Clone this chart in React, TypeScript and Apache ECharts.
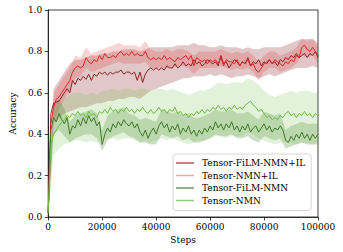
import React, { useEffect, useRef } from "react";
import * as echarts from "echarts";

const STEP_LINE = 1000;
const STEP_BAND = 2000;

const NAMES = ["Tensor-FiLM-NMN+IL", "Tensor-NMN+IL", "Tensor-FiLM-NMN", "Tensor-NMN"];
const X_TICKS = [0, 20000, 40000, 60000, 80000, 100000];
const Y_TICKS = [0, 0.2, 0.4, 0.6, 0.8, 1.0];

const R1 = [
  0.02, 0.50, 0.55, 0.555, 0.56, 0.58, 0.60, 0.62, 0.60, 0.66, 0.64,
  0.67, 0.66, 0.68, 0.665, 0.69, 0.66, 0.69, 0.68, 0.70, 0.69,
  0.70, 0.685, 0.70, 0.69, 0.70, 0.70, 0.71, 0.69, 0.70, 0.70,
  0.69, 0.70, 0.66, 0.70, 0.65, 0.69, 0.71, 0.72, 0.71, 0.72,
  0.71, 0.72, 0.71, 0.73, 0.72, 0.72, 0.74, 0.72, 0.73, 0.75,
  0.73, 0.74, 0.73, 0.76, 0.74, 0.75, 0.73, 0.74, 0.76, 0.75,
  0.74, 0.75, 0.73, 0.78, 0.74, 0.75, 0.72, 0.74, 0.76, 0.75,
  0.73, 0.75, 0.74, 0.77, 0.73, 0.75, 0.74, 0.76, 0.73, 0.75,
  0.74, 0.76, 0.74, 0.75, 0.73, 0.76, 0.75, 0.77, 0.76, 0.78,
  0.77, 0.79, 0.77, 0.78, 0.79, 0.77, 0.79, 0.78, 0.80, 0.77,
];
const R2 = [
  0.02, 0.45, 0.53, 0.57, 0.58, 0.60, 0.62, 0.64, 0.66, 0.70, 0.72,
  0.73, 0.72, 0.73, 0.77, 0.75, 0.74, 0.76, 0.75, 0.78, 0.76,
  0.79, 0.77, 0.77, 0.78, 0.77, 0.79, 0.80, 0.78, 0.79, 0.78,
  0.80, 0.78, 0.79, 0.78, 0.78, 0.80, 0.77, 0.76, 0.77, 0.76,
  0.77, 0.76, 0.78, 0.76, 0.77, 0.76, 0.75, 0.77, 0.76, 0.77,
  0.78, 0.76, 0.78, 0.73, 0.77, 0.76, 0.75, 0.76, 0.74, 0.76,
  0.75, 0.76, 0.74, 0.77, 0.73, 0.76, 0.75, 0.75, 0.74, 0.76,
  0.73, 0.75, 0.74, 0.76, 0.73, 0.74, 0.71, 0.70, 0.72, 0.74,
  0.75, 0.76, 0.74, 0.76, 0.75, 0.74, 0.73, 0.75, 0.74, 0.76,
  0.75, 0.78, 0.77, 0.82, 0.83, 0.81, 0.80, 0.82, 0.80, 0.78,
];
const G1 = [
  0.02, 0.42, 0.48, 0.46, 0.50, 0.47, 0.45, 0.48, 0.40, 0.44, 0.43,
  0.47, 0.44, 0.48, 0.45, 0.49, 0.46, 0.48, 0.44, 0.46, 0.35,
  0.40, 0.43, 0.41, 0.45, 0.43, 0.46, 0.44, 0.47, 0.45, 0.44,
  0.46, 0.43, 0.45, 0.41, 0.39, 0.42, 0.38, 0.41, 0.43, 0.40,
  0.44, 0.46, 0.43, 0.45, 0.41, 0.44, 0.42, 0.45, 0.40, 0.43,
  0.41, 0.44, 0.40, 0.42, 0.39, 0.42, 0.40, 0.43, 0.41, 0.44,
  0.42, 0.46, 0.43, 0.45, 0.42, 0.45, 0.43, 0.46, 0.42, 0.44,
  0.41, 0.44, 0.42, 0.45, 0.41, 0.43, 0.44, 0.41, 0.43, 0.45,
  0.42, 0.44, 0.41, 0.43, 0.42, 0.44, 0.42, 0.37, 0.36, 0.39,
  0.37, 0.40, 0.38, 0.41, 0.38, 0.40, 0.37, 0.40, 0.38, 0.40,
];
const G2 = [
  0.02, 0.35, 0.40, 0.42, 0.44, 0.46, 0.47, 0.49, 0.48, 0.50, 0.49,
  0.51, 0.49, 0.50, 0.48, 0.51, 0.49, 0.50, 0.48, 0.51, 0.50,
  0.52, 0.50, 0.53, 0.51, 0.52, 0.50, 0.52, 0.51, 0.53, 0.51,
  0.52, 0.50, 0.52, 0.51, 0.53, 0.51, 0.50, 0.52, 0.50, 0.51,
  0.53, 0.51, 0.52, 0.50, 0.52, 0.51, 0.53, 0.50, 0.51, 0.49,
  0.50, 0.48, 0.50, 0.49, 0.51, 0.50, 0.52, 0.50, 0.52, 0.51,
  0.53, 0.52, 0.54, 0.52, 0.53, 0.51, 0.53, 0.52, 0.54, 0.52,
  0.53, 0.52, 0.54, 0.55, 0.56, 0.54, 0.53, 0.51, 0.52, 0.50,
  0.48, 0.49, 0.47, 0.48, 0.47, 0.49, 0.48, 0.50, 0.51, 0.49,
  0.50, 0.48, 0.50, 0.49, 0.51, 0.49, 0.50, 0.48, 0.50, 0.49,
];

const R1_LO = [
  0.00, 0.45, 0.48, 0.50, 0.51, 0.52, 0.53, 0.53, 0.54, 0.55, 0.55,
  0.56, 0.56, 0.57, 0.57, 0.58, 0.58, 0.57, 0.59, 0.61, 0.62,
  0.63, 0.64, 0.65, 0.66, 0.67, 0.67, 0.68, 0.68, 0.68, 0.69,
  0.68, 0.69, 0.68, 0.67, 0.68, 0.68, 0.69, 0.68, 0.67, 0.68,
  0.69, 0.68, 0.69, 0.70, 0.71, 0.72, 0.72, 0.72, 0.73, 0.72,
];
const R1_HI = [
  0.05, 0.62, 0.66, 0.70, 0.74, 0.76, 0.76, 0.77, 0.78, 0.78, 0.79,
  0.79, 0.80, 0.80, 0.81, 0.81, 0.81, 0.80, 0.81, 0.82, 0.82,
  0.82, 0.82, 0.82, 0.83, 0.83, 0.83, 0.84, 0.83, 0.83, 0.82,
  0.82, 0.83, 0.82, 0.82, 0.82, 0.81, 0.82, 0.81, 0.81, 0.82,
  0.82, 0.82, 0.82, 0.83, 0.84, 0.85, 0.86, 0.86, 0.86, 0.84,
];
const R2_LO = [
  0.00, 0.47, 0.52, 0.57, 0.61, 0.67, 0.68, 0.72, 0.70, 0.71, 0.72,
  0.73, 0.74, 0.75, 0.74, 0.74, 0.74, 0.74, 0.75, 0.72, 0.72,
  0.72, 0.72, 0.72, 0.73, 0.73, 0.72, 0.69, 0.72, 0.72, 0.72,
  0.72, 0.73, 0.72, 0.71, 0.72, 0.71, 0.72, 0.70, 0.66, 0.70,
  0.72, 0.72, 0.70, 0.71, 0.72, 0.74, 0.78, 0.77, 0.78, 0.74,
];
const R2_HI = [
  0.05, 0.60, 0.64, 0.68, 0.72, 0.78, 0.77, 0.82, 0.79, 0.80, 0.81,
  0.82, 0.83, 0.84, 0.83, 0.83, 0.83, 0.82, 0.85, 0.81, 0.80,
  0.80, 0.81, 0.80, 0.81, 0.81, 0.80, 0.78, 0.80, 0.80, 0.80,
  0.80, 0.81, 0.80, 0.79, 0.80, 0.79, 0.80, 0.78, 0.75, 0.78,
  0.80, 0.80, 0.78, 0.79, 0.80, 0.82, 0.86, 0.85, 0.86, 0.82,
];
const G1_LO = [
  0.00, 0.40, 0.42, 0.39, 0.36, 0.38, 0.39, 0.40, 0.40, 0.38, 0.32,
  0.37, 0.39, 0.40, 0.41, 0.39, 0.38, 0.36, 0.36, 0.35, 0.35,
  0.40, 0.39, 0.38, 0.39, 0.37, 0.38, 0.36, 0.36, 0.37, 0.38,
  0.40, 0.39, 0.39, 0.40, 0.38, 0.38, 0.39, 0.37, 0.36, 0.39,
  0.38, 0.37, 0.38, 0.33, 0.34, 0.35, 0.36, 0.35, 0.35, 0.35,
];
const G1_HI = [
  0.05, 0.55, 0.57, 0.52, 0.46, 0.49, 0.50, 0.51, 0.52, 0.50, 0.42,
  0.49, 0.51, 0.52, 0.53, 0.50, 0.49, 0.47, 0.48, 0.47, 0.46,
  0.52, 0.51, 0.50, 0.51, 0.49, 0.50, 0.48, 0.48, 0.49, 0.50,
  0.52, 0.51, 0.51, 0.52, 0.50, 0.50, 0.51, 0.49, 0.47, 0.51,
  0.50, 0.49, 0.50, 0.42, 0.44, 0.45, 0.46, 0.45, 0.45, 0.45,
];
const G2_LO = [
  0.00, 0.30, 0.33, 0.35, 0.36, 0.37, 0.37, 0.36, 0.37, 0.36, 0.37,
  0.38, 0.38, 0.37, 0.38, 0.38, 0.37, 0.36, 0.37, 0.36, 0.37,
  0.38, 0.37, 0.38, 0.37, 0.36, 0.35, 0.36, 0.37, 0.37, 0.38,
  0.39, 0.39, 0.38, 0.39, 0.39, 0.39, 0.41, 0.40, 0.38, 0.37,
  0.36, 0.35, 0.36, 0.36, 0.36, 0.35, 0.36, 0.36, 0.35, 0.36,
];
const G2_HI = [
  0.05, 0.50, 0.54, 0.57, 0.59, 0.60, 0.60, 0.59, 0.60, 0.59, 0.61,
  0.61, 0.62, 0.61, 0.62, 0.62, 0.61, 0.62, 0.62, 0.61, 0.62,
  0.62, 0.61, 0.62, 0.61, 0.60, 0.59, 0.60, 0.61, 0.61, 0.62,
  0.64, 0.65, 0.64, 0.65, 0.65, 0.65, 0.67, 0.66, 0.64, 0.61,
  0.59, 0.58, 0.59, 0.60, 0.61, 0.60, 0.61, 0.61, 0.60, 0.60,
];

const LINES = [R1, R2, G1, G2];
const BANDS_LO = [R1_LO, R2_LO, G1_LO, G2_LO];
const BANDS_HI = [R1_HI, R2_HI, G1_HI, G2_HI];

const LINE_COLORS = ["#8b2525", "#e0262a", "#3f7a25", "#6dbd45"];
const LEGEND_COLORS = ["#b05a5a", "#f2a3a3", "#6f9a5f", "#8fcc72"];
const BAND_COLORS = [
  "rgba(139,37,37,0.26)",
  "rgba(224,38,42,0.2)",
  "rgba(63,122,37,0.25)",
  "rgba(109,189,69,0.2)",
];

const FONT = "DejaVu Serif";

export default function App() {
  const ref = useRef<HTMLDivElement>(null);
  useEffect(() => {
    if (!ref.current) return;
    const chart = echarts.init(ref.current, undefined, { renderer: "svg" });
    const series: any[] = [];
    BANDS_LO.forEach((lo, k) => {
      const hi = BANDS_HI[k];
      const data = lo.map((v, i) => [i * STEP_BAND, v, hi[i]]);
      series.push({
        type: "custom",
        name: "band" + k,
        data,
        encode: { x: 0, y: [1, 2] },
        silent: true,
        z: 1,
        renderItem: (params: any, api: any) => {
          if (params.dataIndex !== 0) return null;
          const top = data.map((d) => api.coord([d[0], d[2]]));
          const bot = data.map((d) => api.coord([d[0], d[1]])).reverse();
          return {
            type: "polygon",
            shape: { points: top.concat(bot) },
            style: { fill: BAND_COLORS[k], stroke: "none" },
          };
        },
      });
    });
    LINES.forEach((arr, k) => {
      series.push({
        type: "line",
        name: NAMES[k],
        data: arr.map((v, i) => [i * STEP_LINE, v]),
        symbol: "none",
        showSymbol: false,
        color: LINE_COLORS[k],
        lineStyle: { color: LINE_COLORS[k], width: 1 },
        z: 3,
      });
    });
    chart.setOption({
      animation: false,
      grid: {
        left: 41,
        right: 25,
        top: 10,
        bottom: 35,
        show: true,
        borderColor: "#111",
        borderWidth: 0.8,
        backgroundColor: "transparent",
      },
      legend: {
        orient: "vertical",
        left: 173,
        top: 154,
        data: NAMES.map((n, k) => ({ name: n, itemStyle: { color: LEGEND_COLORS[k] } })),
        icon: "rect",
        itemWidth: 18,
        itemHeight: 1.5,
        itemGap: 2.5,
        padding: [4, 6, 5, 3],
        borderColor: "#cccccc",
        borderWidth: 0.8,
        borderRadius: 3,
        backgroundColor: "rgba(255,255,255,0.8)",
        textStyle: { fontFamily: FONT, fontSize: 9, color: "#000", lineHeight: 10, padding: [0, 0, 0, 3] },
      },
      xAxis: {
        type: "value",
        min: X_TICKS[0],
        max: X_TICKS[X_TICKS.length - 1],
        interval: X_TICKS[1] - X_TICKS[0],
        name: "Steps",
        nameLocation: "middle",
        nameGap: 18,
        nameTextStyle: { fontFamily: FONT, fontSize: 9, color: "#000" },
        axisLine: { show: true, lineStyle: { color: "#111", width: 0.8 } },
        axisTick: { show: true, length: 3.5, lineStyle: { color: "#111", width: 0.8 } },
        axisLabel: { fontFamily: FONT, fontSize: 9, color: "#000", margin: 5, formatter: (v: number) => String(v) },
        splitLine: { show: false },
      },
      yAxis: {
        type: "value",
        min: Y_TICKS[0],
        max: Y_TICKS[Y_TICKS.length - 1],
        interval: 0.2,
        name: "Accuracy",
        nameLocation: "middle",
        nameGap: 26,
        nameTextStyle: { fontFamily: FONT, fontSize: 9, color: "#000" },
        axisLine: { show: true, lineStyle: { color: "#111", width: 0.8 } },
        axisTick: { show: true, length: 3.5, lineStyle: { color: "#111", width: 0.8 } },
        axisLabel: { fontFamily: FONT, fontSize: 9, color: "#000", margin: 6, formatter: (v: number) => v.toFixed(1) },
        splitLine: { show: false },
      },
      series,
    });
    return () => chart.dispose();
  }, []);
  return (
    <div
      ref={ref}
      style={{ position: "fixed", left: 0, top: 0, width: 343, height: 252, background: "#fff" }}
    />
  );
}
